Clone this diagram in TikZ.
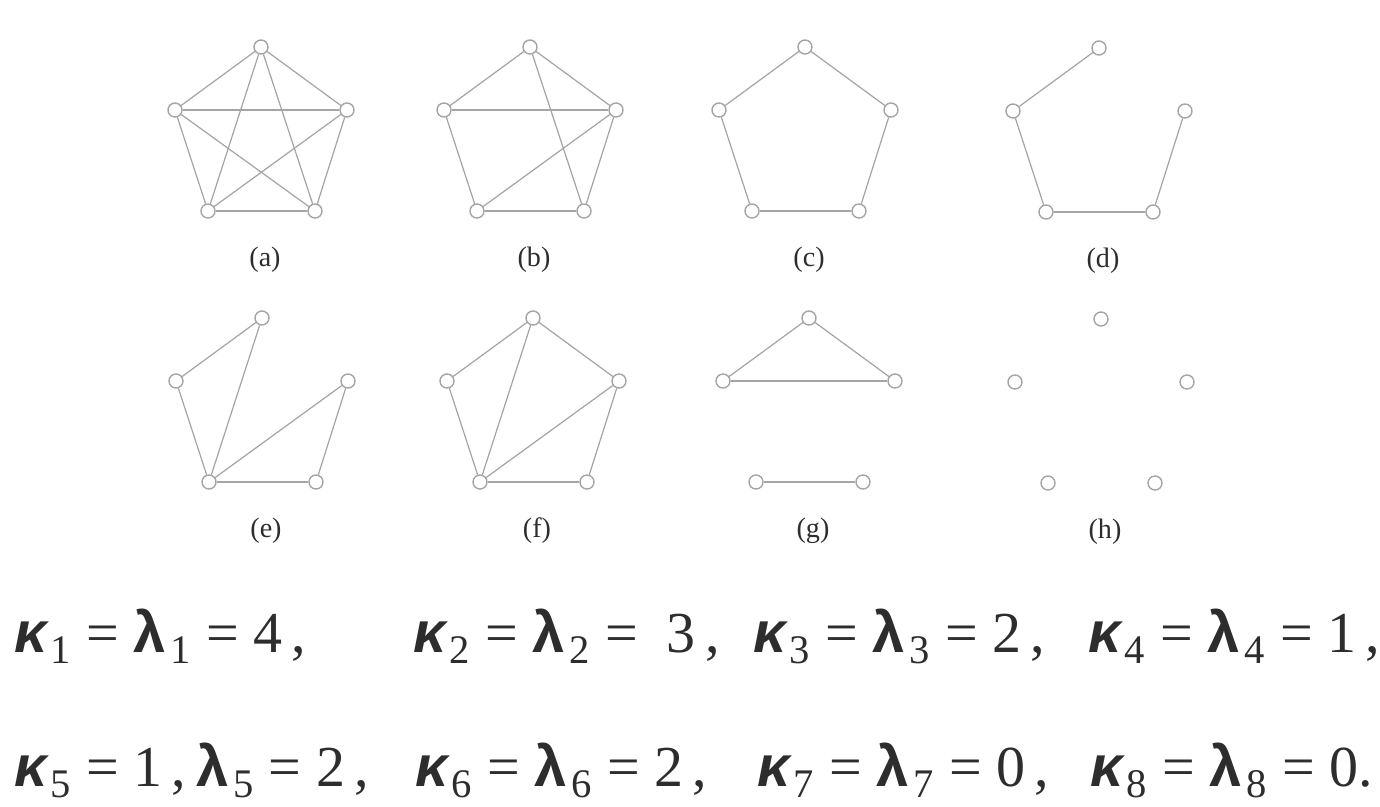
\documentclass[tikz,border=0pt]{standalone}
\usepackage{fontspec}
\setmainfont{Liberation Serif}
\newfontfamily\grk{Liberation Sans}
\usetikzlibrary{positioning}
\definecolor{edgegray}{RGB}{165,165,165}
\definecolor{inkgray}{RGB}{45,45,45}
\newcommand{\kap}[1]{{\grk\bfseries\itshape κ}\textsubscript{\kern0.08em#1}}
\newcommand{\lam}[1]{{\grk\bfseries λ}\textsubscript{\kern0.12em#1}}
\newcommand{\eqs}{\kern0.25em=\kern0.25em}

\begin{document}
\begin{tikzpicture}[x=0.02cm, y=-0.02cm,
    vtx/.style={circle, draw=edgegray, fill=white, line width=0.8pt,
                minimum size=0.28cm, inner sep=0pt},
    edge/.style={draw=edgegray, line width=0.7pt},
    lbl/.style={font=\fontsize{16}{19}\selectfont, text=inkgray},
    eq/.style={anchor=base west, inner sep=0pt,
               font=\fontsize{33}{40}\selectfont, text=inkgray}
  ]
  \useasboundingbox (0,0) rectangle (1380,806);
  % five vertices and a label per graph
  \foreach \g/\x/\y in {a/261/47, b/530/47, c/805/47, d/1099/48,
                        e/262/318, f/533/318, g/809/318, h/1101/319}{
    \node[vtx] (\g1) at (\x,\y) {};
    \node[vtx] (\g2) at (\x+86,\y+63) {};
    \node[vtx] (\g3) at (\x+54,\y+164) {};
    \node[vtx] (\g4) at (\x-53,\y+164) {};
    \node[vtx] (\g5) at (\x-86,\y+63) {};
    \node[lbl] (\g lab) at (\x+4,\y+213) {(\g)};
  }
  % edges
  \foreach \i/\j in {1/2,1/3,1/4,1/5,2/3,2/4,2/5,3/4,3/5,4/5}
    \draw[edge] (a\i) -- (a\j);
  \foreach \i/\j in {1/5,1/2,5/2,5/4,4/3,3/2,1/3,4/2}
    \draw[edge] (b\i) -- (b\j);
  \foreach \i/\j in {1/2,2/3,3/4,4/5,5/1}
    \draw[edge] (c\i) -- (c\j);
  \foreach \i/\j in {1/5,5/4,4/3,3/2}
    \draw[edge] (d\i) -- (d\j);
  \foreach \i/\j in {1/5,5/4,1/4,4/2,4/3,3/2}
    \draw[edge] (e\i) -- (e\j);
  \foreach \i/\j in {1/5,1/2,5/4,1/4,4/2,4/3,3/2}
    \draw[edge] (f\i) -- (f\j);
  \foreach \i/\j in {1/5,1/2,5/2,4/3}
    \draw[edge] (g\i) -- (g\j);
  % connectivity values
  \node[eq] (k1) at (14,652) {\kap{1}\eqs\lam{1}\eqs4\,,};
  \node[eq] (k2) at (413,652) {\kap{2}\eqs\lam{2}\eqs\ 3\,,};
  \node[eq] (k3) at (753,652) {\kap{3}\eqs\lam{3}\eqs2\,,};
  \node[eq] (k4) at (1088,652) {\kap{4}\eqs\lam{4}\eqs1\,,};
  \node[eq] (k5) at (14,786) {\kap{5}\eqs1\,,\,\lam{5}\eqs2\,,};
  \node[eq] (k6) at (415,786) {\kap{6}\eqs\lam{6}\eqs2\,,};
  \node[eq] (k7) at (757,786) {\kap{7}\eqs\lam{7}\eqs0\,,};
  \node[eq] (k8) at (1090,786) {\kap{8}\eqs\lam{8}\eqs0.};
\end{tikzpicture}
\end{document}
